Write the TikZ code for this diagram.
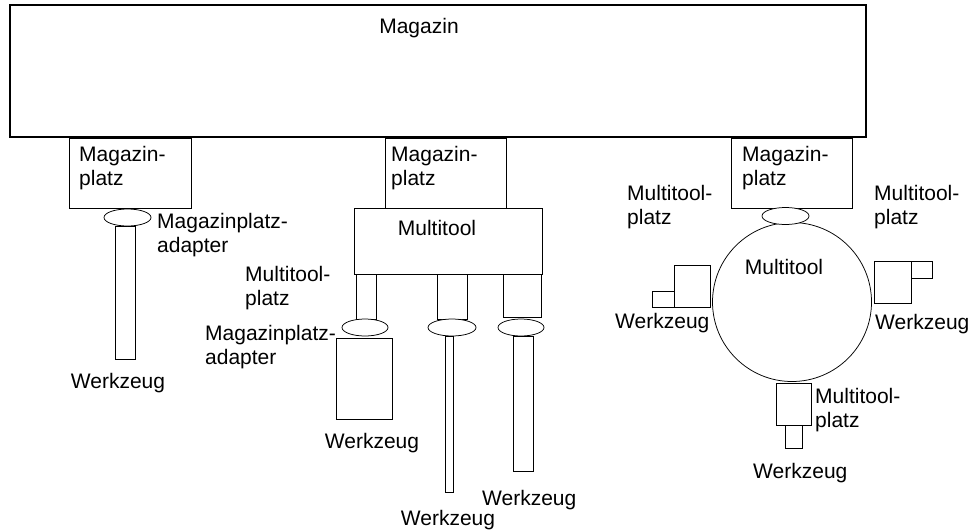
\documentclass[tikz,border=0pt]{standalone}
\usepackage{fontspec}
\setmainfont{Liberation Sans}
\usetikzlibrary{shapes.geometric}
\begin{document}
\begin{tikzpicture}[x=1pt,y=-1pt,
  part/.style={draw, line width=0.75pt, inner sep=0, outer sep=0, anchor=north west, fill=white},
  adapter/.style={draw, ellipse, line width=0.75pt, inner sep=0, outer sep=0, fill=white,
                  minimum width=47pt, minimum height=17pt},
  lbl/.style={inner sep=0, anchor=north west, align=left, font=\fontsize{21}{24.5}\selectfont},
  lblc/.style={lbl, anchor=north, align=center}]
\useasboundingbox (0,0) rectangle (971,530);

% magazine
\node[part, line width=1.1pt, minimum width=856pt, minimum height=132pt] (mag) at (10,5) {};
\node[lblc] (magtxt) at (419,18) {Magazin};

% --- left: tool directly in a magazine location ---
\node[part, minimum width=122pt, minimum height=70pt] (mp1) at (69,138) {};
\node[lbl] (mp1txt) at (79,146) {Magazin-\\platz};
\node[part, minimum width=20pt, minimum height=133pt] (w1) at (115,226) {};
\node[adapter] (ad1) at (127.5,217.5) {};
\node[lbl] (ad1txt) at (157,213) {Magazinplatz-\\adapter};
\node[lblc] (w1txt) at (118,373) {Werkzeug};

% --- middle: multitool with three locations ---
\node[part, minimum width=121pt, minimum height=70pt] (mp2) at (385,138) {};
\node[lbl] (mp2txt) at (391,146) {Magazin-\\platz};
\node[part, minimum width=188pt, minimum height=66pt] (mt2) at (354,208) {};
\node[lblc] (mt2txt) at (437,220) {Multitool};

\node[part, minimum width=20pt, minimum height=45pt] (mtp1) at (356,274) {};
\node[part, minimum width=30pt, minimum height=45pt] (mtp2) at (437,274) {};
\node[part, minimum width=38pt, minimum height=43pt] (mtp3) at (503,274) {};

\node[part, minimum width=56pt, minimum height=81pt] (w2) at (336,338) {};
\node[part, minimum width=8pt, minimum height=156pt] (w3) at (445,336) {};
\node[part, minimum width=20pt, minimum height=135pt] (w4) at (513,336) {};

\node[adapter, minimum width=46pt] (ad2) at (365,327.5) {};
\node[adapter, minimum width=48pt] (ad3) at (452,327.5) {};
\node[adapter, minimum width=46pt] (ad4) at (521,327.5) {};

\node[lbl] (mtp2txt) at (245,266) {Multitool-\\platz};
\node[lbl] (ad2txt) at (205,325) {Magazinplatz-\\adapter};
\node[lblc] (w2txt) at (372,433) {Werkzeug};
\node[lblc] (w3txt) at (448,510) {Werkzeug};
\node[lbl] (w4txt) at (482,490) {Werkzeug};

% --- right: revolving multitool ---
\node[part, minimum width=121pt, minimum height=70pt] (mp3) at (731,138) {};
\node[lbl] (mp3txt) at (742,146) {Magazin-\\platz};
\node[draw, circle, line width=0.75pt, inner sep=0, outer sep=0, minimum size=159pt] (mt3) at (792,302) {};
\node[adapter] (ad5) at (785.5,216) {};
\node[lblc] (mt3txt) at (784,259) {Multitool};

% left location with tool
\node[part, minimum width=36pt, minimum height=42pt] (mtp4) at (674,265) {};
\node[part, minimum width=22pt, minimum height=16pt] (w5) at (652,291) {};
% right location with tool
\node[part, minimum width=37pt, minimum height=42pt] (mtp5) at (874,261) {};
\node[part, minimum width=21pt, minimum height=17pt] (w6) at (911,261) {};
% bottom location with tool
\node[part, minimum width=35pt, minimum height=42pt] (mtp6) at (776,383) {};
\node[part, minimum width=17pt, minimum height=23pt] (w7) at (785,425) {};

\node[lbl] (mtp4txt) at (627,185) {Multitool-\\platz};
\node[lbl] (mtp5txt) at (874,185) {Multitool-\\platz};
\node[lbl] (mtp6txt) at (815,388) {Multitool-\\platz};
\node[lbl] (w5txt) at (615,313) {Werkzeug};
\node[lbl] (w6txt) at (875,314) {Werkzeug};
\node[lbl] (w7txt) at (753,463) {Werkzeug};
\end{tikzpicture}
\end{document}
